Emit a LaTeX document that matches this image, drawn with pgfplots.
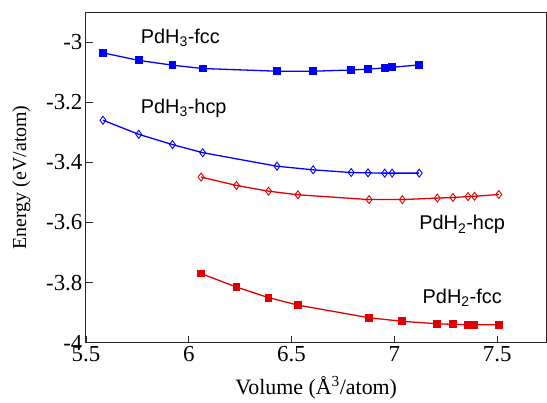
\documentclass[border=0pt]{standalone}
\usepackage{fontspec}
\setmainfont{Liberation Serif}
\newfontfamily\labfont{Liberation Sans}
\newfontfamily\tickfont{Liberation Serif}
\usepackage{pgfplots}
\pgfplotsset{compat=1.18}
\usetikzlibrary{calc}
\definecolor{lineblue}{RGB}{0,0,255}
\definecolor{linered}{RGB}{225,0,0}

\begin{document}
\begin{tikzpicture}
\begin{axis}[
  name=ax, scale only axis,
  width=461bp, height=331bp,
  xmin=5.5, xmax=7.74, ymin=-4, ymax=-2.9,
  xtick={5.5,6,6.5,7,7.5},
  xticklabels={\tickfont 5.5,\tickfont 6,\tickfont 6.5,\tickfont 7,\tickfont 7.5},
  ytick={-4,-3.8,-3.6,-3.4,-3.2,-3},
  yticklabels={\tickfont -4,\tickfont -3.8,\tickfont -3.6,\tickfont -3.4,\tickfont -3.2,\tickfont -3},
  tick pos=left, tick align=inside,
  major tick length=7bp,
  axis line style={line width=0.9pt, black!85},
  tick style={line width=0.8pt, black!85},
  ticklabel style={font=\fontsize{23}{26}\selectfont},
  xlabel={Volume (Å\textsuperscript{3}/atom)},
  ylabel={Energy (eV/atom)},
  xlabel style={font=\fontsize{22}{26}\selectfont, yshift=-8bp},
  ylabel style={font=\fontsize{20}{24}\selectfont, yshift=9bp},
  every axis plot/.append style={line width=1.3pt},
  clip=false,
]
% PdH3-fcc
\addplot[lineblue, mark=square*, mark size=3.3pt] coordinates {
  (5.583,-3.036)(5.757,-3.061)(5.921,-3.077)(6.068,-3.088)(6.429,-3.097)
  (6.605,-3.097)(6.790,-3.093)(6.872,-3.090)(6.953,-3.086)(6.989,-3.084)(7.121,-3.076)
};
% PdH3-hcp
\addplot[lineblue, mark=diamond, mark size=4pt, mark options={line width=0.9pt, fill=white}] coordinates {
  (5.583,-3.260)(5.757,-3.307)(5.921,-3.341)(6.068,-3.368)(6.429,-3.413)
  (6.605,-3.425)(6.790,-3.434)(6.872,-3.435)(6.953,-3.436)(6.989,-3.436)(7.121,-3.436)
};
% PdH2-hcp
\addplot[linered, mark=diamond, mark size=4pt, mark options={line width=0.9pt, fill=white}] coordinates {
  (6.060,-3.449)(6.232,-3.477)(6.388,-3.496)(6.531,-3.508)(6.877,-3.524)
  (7.039,-3.524)(7.209,-3.519)(7.285,-3.517)(7.358,-3.514)(7.390,-3.513)(7.508,-3.507)
};
% PdH2-fcc
\addplot[linered, mark=square*, mark size=3.3pt] coordinates {
  (6.060,-3.770)(6.232,-3.815)(6.388,-3.850)(6.531,-3.875)(6.877,-3.917)
  (7.039,-3.929)(7.209,-3.937)(7.285,-3.939)(7.358,-3.940)(7.390,-3.940)(7.508,-3.940)
};
\node[anchor=west, font=\labfont\fontsize{20}{24}\selectfont] at (axis cs:5.75,-2.985) {PdH\textsubscript{3}-fcc};
\node[anchor=west, font=\labfont\fontsize{20}{24}\selectfont] at (axis cs:5.75,-3.22) {PdH\textsubscript{3}-hcp};
\node[anchor=center, font=\labfont\fontsize{20}{24}\selectfont] at (axis cs:7.33,-3.608) {PdH\textsubscript{2}-hcp};
\node[anchor=center, font=\labfont\fontsize{20}{24}\selectfont] at (axis cs:7.33,-3.85) {PdH\textsubscript{2}-fcc};
\end{axis}
\pgfresetboundingbox
\path[use as bounding box] ($(ax.south west)+(-86bp,-60bp)$) rectangle ($(ax.north east)+(0.5bp,12bp)$);
\end{tikzpicture}
\end{document}
